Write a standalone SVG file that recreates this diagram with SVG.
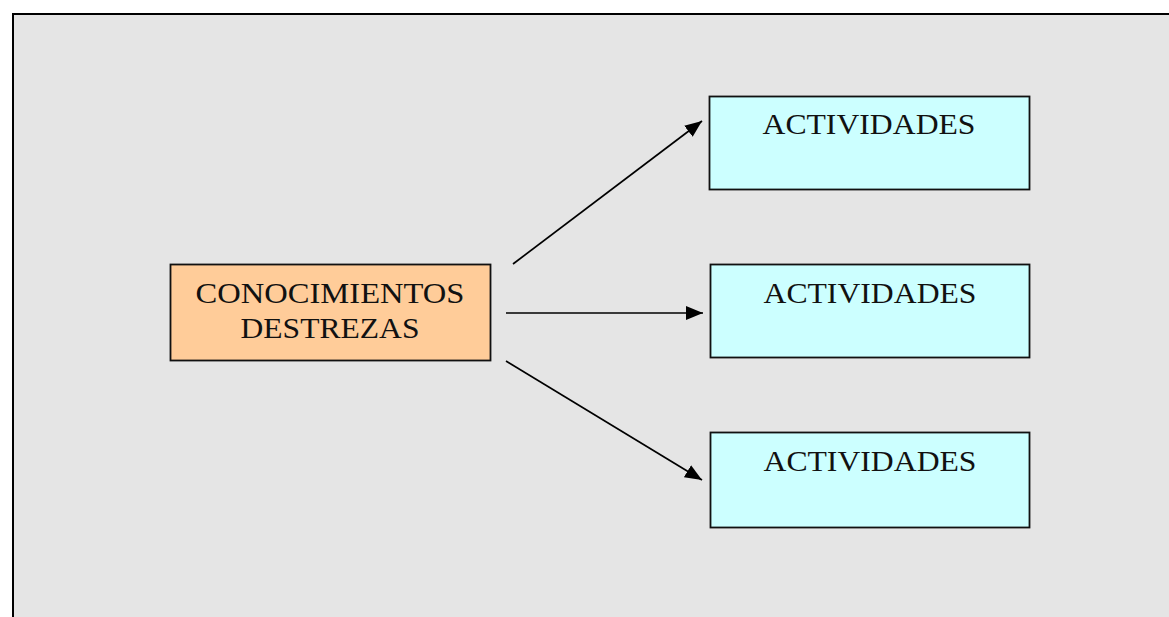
<svg xmlns="http://www.w3.org/2000/svg" width="1169" height="617" viewBox="0 0 1169 617">
  <style>
    .frame { fill: #e5e5e5; stroke: none; }
    .edge { stroke: #000; stroke-width: 2; fill: none; }
    .node rect { stroke: #111; stroke-width: 1.8; }
    .src rect { fill: #ffcc99; }
    .dst rect { fill: #ccffff; }
    .lbl { font-family: "Liberation Serif", "DejaVu Serif", serif; font-size: 29px; fill: #111; text-anchor: middle; }
    .conn { stroke: #000; stroke-width: 1.7; fill: none; marker-end: url(#arrow); }
  </style>
  <defs>
    <marker id="arrow" markerUnits="userSpaceOnUse" markerWidth="18" markerHeight="16" refX="17" refY="8" orient="auto">
      <path d="M0,1 L17,8 L0,15 Z" fill="#000"/>
    </marker>
  </defs>

  <rect width="1169" height="617" fill="#ffffff"/>
  <!-- background panel with top and left rules -->
  <rect class="frame" x="13" y="14" width="1156" height="603"/>
  <path class="edge" d="M13,617 L13,14 L1169,14"/>

  <g id="connectors">
    <line class="conn" x1="513" y1="264" x2="702" y2="121"/>
    <line class="conn" x1="506" y1="313" x2="703" y2="313"/>
    <line class="conn" x1="506" y1="361" x2="702" y2="480"/>
  </g>

  <g id="conocimientos" class="node src">
    <rect x="170.5" y="264.5" width="320" height="96"/>
    <text class="lbl" x="330" y="303" textLength="269" lengthAdjust="spacingAndGlyphs">CONOCIMIENTOS</text>
    <text class="lbl" x="330" y="338" textLength="179" lengthAdjust="spacingAndGlyphs">DESTREZAS</text>
  </g>

  <g id="actividades-1" class="node dst">
    <rect x="709.5" y="96.5" width="320" height="93"/>
    <text class="lbl" x="869" y="134" textLength="213" lengthAdjust="spacingAndGlyphs">ACTIVIDADES</text>
  </g>

  <g id="actividades-2" class="node dst">
    <rect x="710.5" y="264.5" width="319" height="93"/>
    <text class="lbl" x="870" y="303" textLength="213" lengthAdjust="spacingAndGlyphs">ACTIVIDADES</text>
  </g>

  <g id="actividades-3" class="node dst">
    <rect x="710.5" y="432.5" width="319" height="95"/>
    <text class="lbl" x="870" y="471" textLength="213" lengthAdjust="spacingAndGlyphs">ACTIVIDADES</text>
  </g>
</svg>
